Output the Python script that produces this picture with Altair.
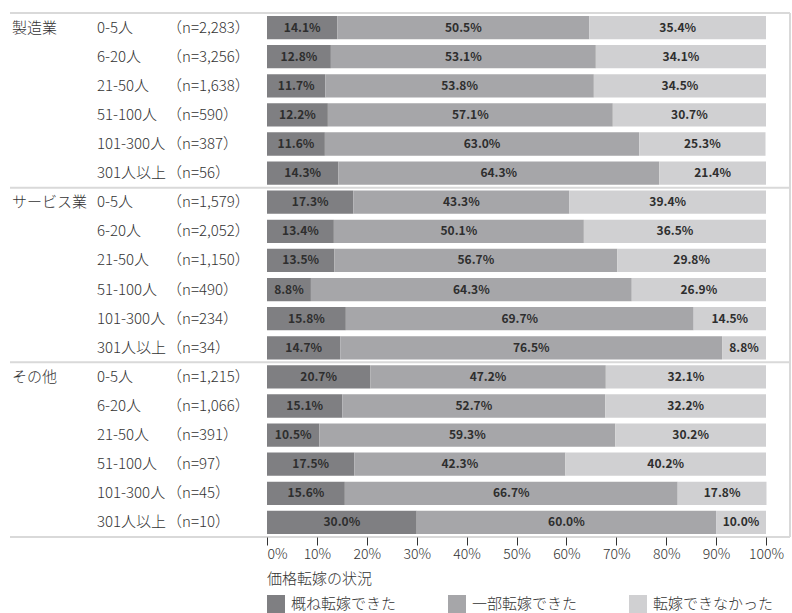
import altair as alt
import pandas as pd

# ---- data ---------------------------------------------------------------
industries = ["製造業", "サービス業", "その他"]
sizes = ["0-5人", "6-20人", "21-50人", "51-100人", "101-300人", "301人以上"]
counts = [
    [2283, 3256, 1638, 590, 387, 56],
    [1579, 2052, 1150, 490, 234, 34],
    [1215, 1066, 391, 97, 45, 10],
]
statuses = ["概ね転嫁できた", "一部転嫁できた", "転嫁できなかった"]
fully = [14.1, 12.8, 11.7, 12.2, 11.6, 14.3,
         17.3, 13.4, 13.5, 8.8, 15.8, 14.7,
         20.7, 15.1, 10.5, 17.5, 15.6, 30.0]
partly = [50.5, 53.1, 53.8, 57.1, 63.0, 64.3,
          43.3, 50.1, 56.7, 64.3, 69.7, 76.5,
          47.2, 52.7, 59.3, 42.3, 66.7, 60.0]
not_passed = [35.4, 34.1, 34.5, 30.7, 25.3, 21.4,
              39.4, 36.5, 29.8, 26.9, 14.5, 8.8,
              32.1, 32.2, 30.2, 40.2, 17.8, 10.0]
colors = ["#7f7f82", "#a6a6a9", "#d0d0d2"]
x_ticks = list(range(0, 101, 10))

FONT = "Noto Sans CJK JP"
TEXT = "#333333"
LIGHT = 300

# ---- tables -------------------------------------------------------------
row_ids, ind_col, size_col, n_col = [], [], [], []
for gi, ind in enumerate(industries):
    for si, size in enumerate(sizes):
        row_ids.append(f"r{gi * len(sizes) + si:02d}")
        ind_col.append(ind if si == 0 else "")
        size_col.append(size)
        n_col.append(f"（n={counts[gi][si]:,}）")

rows = pd.DataFrame({"row": row_ids, "industry": ind_col, "size": size_col, "n": n_col})

series = [fully, partly, not_passed]
long = pd.DataFrame([
    {"row": r, "status": statuses[k], "order": k, "value": series[k][i]}
    for i, r in enumerate(row_ids) for k in range(len(statuses))
])

group_starts = pd.DataFrame({"row": [row_ids[0], row_ids[6], row_ids[12]]})
group_end = pd.DataFrame({"row": [row_ids[-1]]})

W, H = 499, 524
HALF_GAP = H / len(row_ids) * 0.1

y_enc = alt.Y("row:N", sort=row_ids,
              scale=alt.Scale(paddingInner=0.2, paddingOuter=0.1),
              axis=alt.Axis(labels=False, ticks=False, title=None, domain=True,
                            domainColor="#333333", domainWidth=2, zindex=1))

# ---- stacked bars -------------------------------------------------------
base = alt.Chart(long).transform_stack(
    stack="value", groupby=["row"], as_=["x0", "x1"],
    sort=[alt.SortField("order", order="ascending")],
).transform_calculate(
    mid="(datum.x0 + datum.x1) / 2",
    label="format(datum.value, '.1f') + '%'",
)

bars = base.mark_bar().encode(
    x=alt.X("x0:Q", scale=alt.Scale(domain=[0, 100], nice=False),
            axis=alt.Axis(values=x_ticks, labelExpr="datum.value + '%'",
                          domain=False, grid=False, ticks=True, tickSize=8,
                          tickColor="#333333", tickWidth=1, labelFontSize=14,
                          labelFontWeight=LIGHT,
                          labelColor=TEXT, labelPadding=2, title=None, zindex=1,
                          labelAlign=alt.expr("datum.value == 0 ? 'left' : 'center'"))),
    x2="x1:Q",
    y=y_enc,
    color=alt.Color("status:N",
                    scale=alt.Scale(domain=statuses, range=colors),
                    sort=statuses,
                    legend=alt.Legend(title="価格転嫁の状況", orient="none",
                                      legendX=0, legendY=559, direction="horizontal",
                                      columns=3, columnPadding=51,
                                      symbolType="square", symbolSize=324,
                                      symbolStrokeWidth=0, symbolOpacity=1,
                                      labelFontSize=15, labelColor=TEXT, labelOffset=6,
                                      labelFontWeight=LIGHT, labelLimit=200,
                                      titleFontSize=15, titleColor=TEXT,
                                      titleFontWeight=LIGHT, titlePadding=8)),
)

bar_labels = base.mark_text(font=FONT, fontSize=12, fontWeight="bold",
                            color="#2e2e2e", baseline="middle").encode(
    x="mid:Q",
    y=alt.Y("row:N", sort=row_ids, axis=None),
    text="label:N",
)

# ---- row headings on the left -------------------------------------------
def heading(field, xpos, filt=None):
    ch = alt.Chart(rows)
    if filt:
        ch = ch.transform_filter(filt)
    return ch.mark_text(font=FONT, fontSize=15, fontWeight=LIGHT, color=TEXT,
                        align="left", baseline="middle").encode(
        x=alt.value(xpos),
        y=alt.Y("row:N", sort=row_ids, axis=None),
        text=f"{field}:N",
    )

ind_text = heading("industry", -255, "datum.industry != ''")
size_text = heading("size", -170)
n_text = heading("n", -100)

# ---- group separators and frame -----------------------------------------
sep_top = alt.Chart(group_starts).mark_rule(
    color="#d9d9d9", strokeWidth=2, yOffset=-HALF_GAP).encode(
    y=alt.Y("row:N", sort=row_ids, bandPosition=0, axis=None),
    x=alt.value(-257), x2=alt.value(523),
)
sep_bottom = alt.Chart(group_end).mark_rule(
    color="#d9d9d9", strokeWidth=2, yOffset=HALF_GAP).encode(
    y=alt.Y("row:N", sort=row_ids, bandPosition=1, axis=None),
    x=alt.value(-257), x2=alt.value(523),
)
right_edge = alt.Chart(group_end).mark_rule(color="#d9d9d9", strokeWidth=2).encode(
    x=alt.value(523), y=alt.value(0), y2=alt.value(H),
)

chart = alt.layer(
    sep_top, sep_bottom, right_edge, bars, bar_labels, ind_text, size_text, n_text
).properties(
    width=W, height=H,
    autosize=alt.AutoSizeParams(type="none"),
    padding={"left": 267, "top": 13, "right": 26, "bottom": 76},
).configure(
    font=FONT,
).configure_view(
    stroke=None,
).configure_axis(
    labelFont=FONT,
).configure_legend(
    labelFont=FONT, titleFont=FONT,
)

chart.save("out.html", embed_options={"renderer": "svg", "actions": False})
